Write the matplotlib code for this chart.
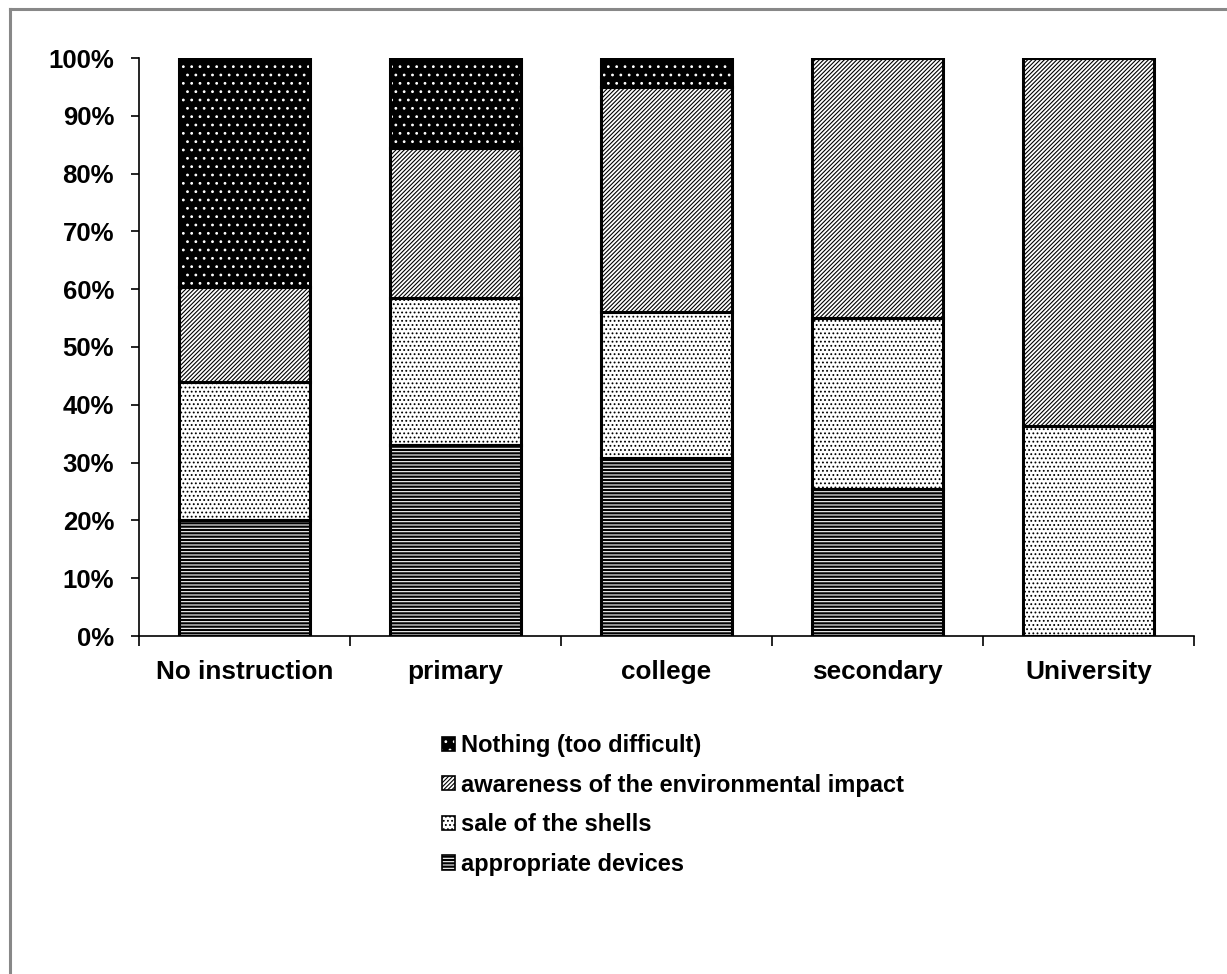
import matplotlib
matplotlib.use("Agg")
import matplotlib.pyplot as plt
from matplotlib.patches import Patch
from matplotlib.lines import Line2D
import numpy as np

categories = ["No instruction", "primary", "college", "secondary", "University"]
appropriate_devices = [20.0, 33.0, 30.8, 25.4, 0.0]
sale_of_shells = [24.0, 25.5, 25.2, 29.6, 36.3]
awareness = [16.3, 26.0, 39.0, 45.0, 63.7]
nothing = [39.7, 15.5, 5.0, 0.0, 0.0]
y_ticks = [0, 10, 20, 30, 40, 50, 60, 70, 80, 90, 100]

series = [
    ("appropriate devices", appropriate_devices, "black", "white", "-----"),
    ("sale of the shells", sale_of_shells, "white", "black", "...."),
    ("awareness of the environmental impact", awareness, "white", "black", "////////"),
    ("Nothing (too difficult)", nothing, "black", "white", ".."),
]

plt.rcParams["font.family"] = ["Liberation Sans", "DejaVu Sans"]
plt.rcParams["hatch.linewidth"] = 0.8

W, H = 1227, 974
fig = plt.figure(figsize=(W / 100, H / 100), dpi=100)
ax = fig.add_axes([139 / W, 1 - 636 / H, (1194 - 139) / W, (636 - 58) / H])

x = np.arange(len(categories))
bar_w = 0.62
bottom = np.zeros(len(categories))
handles = []
for label, vals, face, hcol, hatch in series:
    vals = np.array(vals)
    ax.bar(x, vals, bar_w, bottom=bottom, color=face, edgecolor=hcol,
           hatch=hatch, linewidth=0, zorder=2)
    ax.bar(x, vals, bar_w, bottom=bottom, fill=False, edgecolor="black",
           linewidth=2.2, zorder=3)
    bottom += vals
    handles.append((Patch(facecolor=face, edgecolor=hcol, hatch=hatch, linewidth=0),
                    Patch(fill=False, edgecolor="black", linewidth=1.2)))

ax.set_xlim(-0.5, len(categories) - 0.5)
ax.set_ylim(0, 100)
ax.set_yticks(y_ticks)
ax.set_yticklabels([f"{t}%" for t in y_ticks], fontsize=18.5, fontweight="bold")
ax.set_xticks(x)
ax.set_xticklabels(categories, fontsize=18.8, fontweight="bold")
ax.tick_params(axis="x", length=0, pad=17)
ax.set_xticks(np.arange(len(categories) + 1) - 0.5, minor=True)
ax.tick_params(axis="x", which="minor", length=7, width=1.2, direction="out")
ax.tick_params(axis="y", length=6, width=1.2, direction="out", pad=12)
for s in ["top", "right"]:
    ax.spines[s].set_visible(False)
ax.spines["left"].set_linewidth(1.2)
ax.spines["bottom"].set_linewidth(1.2)

leg = fig.legend(handles[::-1], [s[0] for s in series][::-1],
                 loc="center", bbox_to_anchor=(673 / W, 1 - 805 / H),
                 frameon=False, prop={"size": 17, "weight": "bold"},
                 handlelength=0.55, handleheight=0.55, handletextpad=0.25,
                 labelspacing=0.7)

# outer frame
frame_col = "#888888"
fig.add_artist(Line2D([10 / W, 1], [1 - 9 / H, 1 - 9 / H], color=frame_col,
                      linewidth=2.2, transform=fig.transFigure))
fig.add_artist(Line2D([10 / W, 10 / W], [0, 1 - 9 / H], color=frame_col,
                      linewidth=2.2, transform=fig.transFigure))

fig.savefig("out.png", dpi=100, facecolor="white")
